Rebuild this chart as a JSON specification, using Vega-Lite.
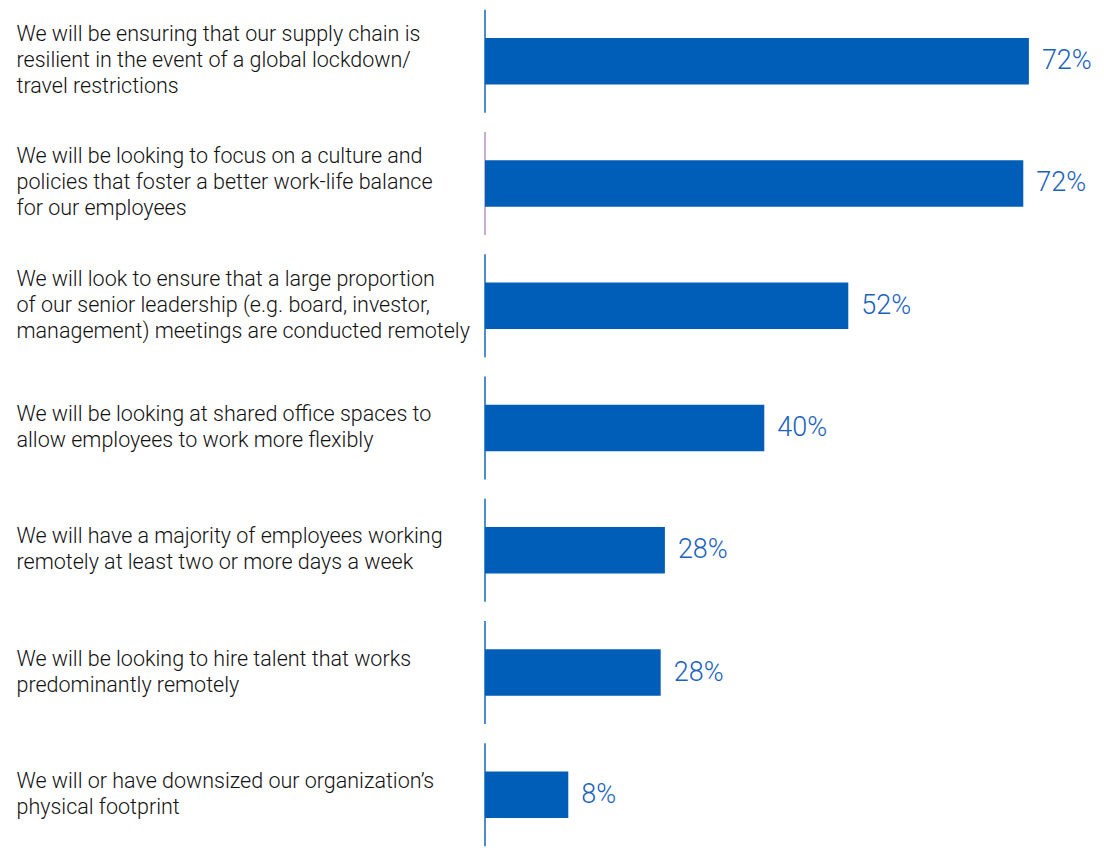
{
  "$schema": "https://vega.github.io/schema/vega-lite/v6.json",
  "width": 619,
  "height": 856,
  "padding": {"left": 16, "top": 0, "right": 0, "bottom": 0},
  "autosize": {"type": "pad"},
  "background": "white",
  "config": {"view": {"stroke": null}, "font": "Roboto"},
  "data": {
    "values": [
      {"item": "We will be ensuring that our supply chain is|resilient in the event of a global lockdown/|travel restrictions", "len": 77.7, "pct": "72%"},
      {"item": "We will be looking to focus on a culture and|policies that foster a better work-life balance|for our employees", "len": 76.9, "pct": "72%"},
      {"item": "We will look to ensure that a large proportion|of our senior leadership (e.g. board, investor,|management) meetings are conducted remotely", "len": 51.9, "pct": "52%"},
      {"item": "We will be looking at shared office spaces to|allow employees to work more flexibly", "len": 39.9, "pct": "40%"},
      {"item": "We will have a majority of employees working|remotely at least two or more days a week", "len": 25.7, "pct": "28%"},
      {"item": "We will be looking to hire talent that works|predominantly remotely", "len": 25.1, "pct": "28%"},
      {"item": "We will or have downsized our organization’s|physical footprint", "len": 11.9, "pct": "8%"}
    ]
  },
  "encoding": {
    "y": {
      "field": "item",
      "type": "nominal",
      "sort": null,
      "scale": {"paddingInner": 0, "paddingOuter": 0},
      "axis": {
        "title": null,
        "domain": false,
        "ticks": false,
        "labelAlign": "left",
        "labelBaseline": "middle",
        "labelPadding": 469,
        "labelOffset": {
          "condition": [
            {"test": "length(split(datum.value, '|')) == 3", "value": -26},
            {"test": "length(split(datum.value, '|')) == 2", "value": -13}
          ],
          "value": 0
        },
        "labelExpr": "split(datum.value, '|')",
        "labelFont": "Roboto",
        "labelFontSize": 21.5,
        "labelFontWeight": 300,
        "labelColor": "#111111",
        "labelLineHeight": 26,
        "labelLimit": 0
      }
    }
  },
  "layer": [
    {
      "mark": {"type": "tick", "thickness": 2, "size": 103},
      "encoding": {
        "x": {"datum": 0, "type": "quantitative", "scale": {"domain": [0, 88.43], "nice": false, "zero": true}, "axis": null},
        "color": {
          "condition": {"test": "indexof(datum.item, 'culture and') >= 0", "value": "#B08AC0"},
          "value": "#005EB8"
        }
      }
    },
    {
      "mark": {"type": "bar", "height": {"band": 0.38}, "color": "#005EB8"},
      "encoding": {
        "x": {"field": "len", "type": "quantitative", "scale": {"domain": [0, 88.43], "nice": false, "zero": true}, "axis": null}
      }
    },
    {
      "mark": {"type": "text", "align": "left", "baseline": "middle", "dx": 13, "fontSize": 27, "fontWeight": 300, "color": "#1A62BD", "font": "Roboto"},
      "encoding": {
        "x": {"field": "len", "type": "quantitative", "scale": {"domain": [0, 88.43], "nice": false, "zero": true}, "axis": null},
        "text": {"field": "pct", "type": "nominal"}
      }
    }
  ]
}
